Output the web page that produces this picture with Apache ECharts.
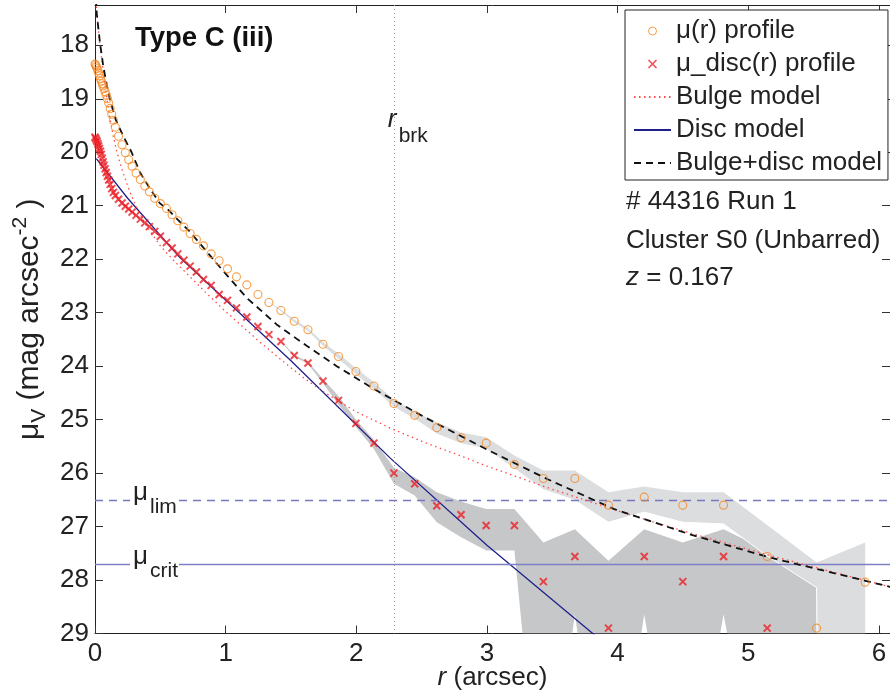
<!DOCTYPE html>
<html><head><meta charset="utf-8">
<script src="https://cdn.jsdelivr.net/npm/echarts@6/dist/echarts.min.js"></script>
<style>html,body{margin:0;padding:0;background:#fff}#c{width:890px;height:695px}</style>
</head><body><div id="c"></div>
<script>
// ---------- data ----------
const xTicks = [0, 1, 2, 3, 4, 5, 6];
const yTicks = [18, 19, 20, 21, 22, 23, 24, 25, 26, 27, 28, 29];

const profR = [0,0.005,0.01,0.016,0.022,0.028,0.034,0.041,0.048,0.055,0.062,0.069,0.077,0.086,0.095,0.105,0.116,0.128,0.141,0.156,0.18,0.207,0.232,0.258,0.284,0.314,0.347,0.381,0.416,0.457,0.5,0.547,0.59,0.634,0.68,0.728,0.776,0.83,0.889,0.95,1.014,1.083,1.162,1.247,1.331,1.423,1.525,1.63,1.745,1.864,1.997,2.135,2.288,2.447,2.616,2.802,2.994,3.21,3.432,3.673,3.93,4.204,4.499,4.811,5.145,5.523,5.895];
const profMu = [18.35,18.37,18.40,18.43,18.47,18.52,18.57,18.62,18.67,18.72,18.76,18.81,18.87,18.93,19.00,19.08,19.18,19.29,19.40,19.53,19.70,19.86,20.01,20.14,20.26,20.39,20.51,20.63,20.74,20.86,20.96,21.05,21.17,21.28,21.40,21.52,21.63,21.75,21.90,22.03,22.18,22.33,22.48,22.66,22.81,22.96,23.16,23.32,23.59,23.82,24.10,24.37,24.70,24.92,25.15,25.34,25.44,25.84,26.10,26.10,26.60,26.45,26.60,26.60,27.56,28.90,28.04];
const discMu = [19.72,19.74,19.77,19.80,19.84,19.88,19.93,19.98,20.04,20.11,20.18,20.24,20.31,20.38,20.45,20.52,20.60,20.68,20.75,20.81,20.88,20.95,21.01,21.06,21.12,21.18,21.25,21.32,21.39,21.48,21.57,21.69,21.79,21.90,22.02,22.13,22.24,22.38,22.49,22.66,22.77,22.91,23.08,23.26,23.41,23.54,23.80,23.94,24.28,24.64,25.07,25.44,26.00,26.20,26.61,26.78,26.98,26.98,28.03,27.56,28.90,27.56,28.03,27.56,28.90,null,null];

const bulgeR  = [0.004,0.013,0.025,0.038,0.051,0.064,0.077,0.094,0.115,0.14,0.166,0.204,0.243,0.28,0.332,0.4,0.5,0.6,0.728,0.85,0.983,1.12,1.239,1.37,1.494,1.62,1.75,1.88,2.005,2.26,2.516,2.77,3.0,3.46,3.92,4.28,4.64,5.15,5.6,6.09];
const bulgeMu = [16.9,17.35,17.68,17.98,18.24,18.5,18.74,19.04,19.38,19.70,19.98,20.30,20.58,20.82,21.10,21.40,21.75,22.02,22.33,22.63,22.94,23.24,23.50,23.77,24.02,24.26,24.48,24.68,24.86,25.16,25.42,25.65,25.87,26.27,26.64,26.92,27.18,27.53,27.82,28.13];

const discModelR  = [0.01,0.25,0.65,1.5,2.26,3.0,3.81,4.0];
const discModelMu = [20.12,20.86,21.97,23.90,25.72,27.35,29.0,29.4];

const totalR  = [0.003,0.013,0.038,0.064,0.09,0.115,0.16,0.217,0.28,0.345,0.42,0.498,0.549,0.65,0.728,0.818,0.932,1.16,1.39,1.62,1.85,2.13,2.29,2.52,2.77,3.0,3.46,3.97,4.56,5.15,5.89,6.09];
const totalMu = [16.9,17.40,17.95,18.40,18.74,19.02,19.40,19.70,20.00,20.38,20.68,20.96,21.05,21.30,21.49,21.75,22.08,22.72,23.22,23.62,24.00,24.42,24.64,24.95,25.27,25.56,26.11,26.67,27.15,27.57,28.01,28.13];

const lightR     = [1.331,1.423,1.525,1.63,1.745,1.864,1.997,2.135,2.288,2.447,2.616,2.802,2.994,3.21,3.432,3.673,3.93,4.204,4.499,4.811,5.145,5.523,5.895];
const lightUpper = [22.80,22.94,23.13,23.29,23.55,23.77,24.04,24.30,24.63,24.85,25.05,25.24,25.33,25.67,25.95,25.95,26.36,26.25,26.36,26.36,26.97,27.67,27.30];
const lightLower = [22.82,22.98,23.19,23.35,23.63,23.87,24.16,24.44,24.77,24.99,25.27,25.45,25.55,25.92,26.31,26.51,26.92,26.73,26.92,26.95,27.55,28.14,100];

const darkR     = [1.423,1.525,1.63,1.745,1.864,1.997,2.135,2.288,2.447,2.616,2.802,2.994,3.21,3.432,3.673,3.93,4.204,4.499,4.811,5.145,5.523];
const darkUpper = [23.53,23.78,23.92,24.24,24.56,25.00,25.38,25.90,26.08,26.36,26.53,26.67,26.67,27.30,27.05,27.64,27.05,27.30,27.05,27.45,27.90];
const darkLower = [23.55,23.82,23.96,24.32,24.72,25.14,25.55,26.20,26.42,26.92,27.20,27.45,27.45,33,28.64,33,28.64,33,28.64,33,33];

const rBrk = 2.286;
const muLim = 26.5;
const muCrit = 27.7;

// ---------- chart ----------
const FONT = '"Liberation Sans", Arial, Helvetica, sans-serif';
const TXT = '#222';
const chart = echarts.init(document.getElementById('c'), null, {renderer: 'canvas'});

function pairs(xs, ys) {
  const out = [];
  for (let i = 0; i < xs.length; i++) if (ys[i] !== null && ys[i] !== undefined) out.push([xs[i], ys[i]]);
  return out;
}
function band(name, rs, up, lo, fill, edge, z) {
  const data = rs.map((r, i) => [r, up[i], lo[i]]);
  return {
    type: 'custom', name: name, data: data, z: z, silent: true, clip: true,
    encode: {x: 0, y: [1, 2]},
    renderItem: function (params, api) {
      if (params.dataIndex !== 0) return null;
      const n = data.length, top = [], bot = [];
      for (let i = 0; i < n; i++) {
        top.push(api.coord([api.value(0, i), api.value(1, i)]));
        bot.push(api.coord([api.value(0, i), api.value(2, i)]));
      }
      const cs = params.coordSys;
      const children = [{type: 'polygon', shape: {points: top.concat(bot.slice().reverse())}, style: {fill: fill, stroke: null}}];
      if (edge) children.push({type: 'polyline', shape: {points: bot}, style: {stroke: '#ffffff', lineWidth: 1, fill: null}});
      return {type: 'group', clipPath: {type: 'rect', shape: {x: cs.x, y: cs.y, width: cs.width, height: cs.height}}, children: children};
    }
  };
}

const XMAX = 6.085, YMIN = 17.246, YMAX = 29;
const tickStyle = {lineStyle: {color: '#333', width: 1}};
const hideSym = {color: 'rgba(0,0,0,0)', borderWidth: 0, opacity: 0};
const option = {
  animation: false,
  backgroundColor: '#fff',
  grid: {left: 95, right: 0, top: 5, bottom: 61.5, containLabel: false, outerBoundsMode: 'none'},
  xAxis: [{
    type: 'value', min: 0, max: XMAX, position: 'bottom',
    axisLine: {show: true, onZero: false, lineStyle: {color: TXT, width: 1}},
    axisTick: Object.assign({show: true, inside: true, length: 8, customValues: xTicks}, tickStyle),
    axisLabel: {show: true, customValues: xTicks, fontSize: 26, color: TXT, fontFamily: FONT, margin: 7},
    splitLine: {show: false},
    name: '{i|r}{n| (arcsec)}', nameLocation: 'middle', nameGap: 31, nameMoveOverlap: false,
    nameTextStyle: {rich: {
      i: {fontSize: 26, fontStyle: 'italic', color: TXT, fontFamily: FONT},
      n: {fontSize: 26, color: TXT, fontFamily: FONT}
    }}
  }, {
    type: 'value', min: 0, max: XMAX, position: 'top',
    axisLine: {show: true, onZero: false, lineStyle: {color: TXT, width: 1}},
    axisTick: Object.assign({show: true, inside: true, length: 8, customValues: xTicks}, tickStyle),
    axisLabel: {show: false}, splitLine: {show: false}
  }],
  yAxis: [{
    type: 'value', min: YMIN, max: YMAX, inverse: true, position: 'left',
    axisLine: {show: true, onZero: false, lineStyle: {color: TXT, width: 1}},
    axisTick: Object.assign({show: true, inside: true, length: 8, customValues: yTicks}, tickStyle),
    axisLabel: {show: true, customValues: yTicks, fontSize: 26, color: TXT, fontFamily: FONT, margin: 6},
    splitLine: {show: false},
    name: '{m|μ}{v|V}{t| (mag arcsec}{e|-2}{t| )}', nameLocation: 'middle', nameGap: 45, nameMoveOverlap: false,
    nameTextStyle: {rich: {
      m: {fontSize: 30, color: TXT, fontFamily: FONT, lineHeight: 40},
      v: {fontSize: 21, color: TXT, fontFamily: FONT, verticalAlign: 'bottom', lineHeight: 21},
      t: {fontSize: 30, color: TXT, fontFamily: FONT},
      e: {fontSize: 21, color: TXT, fontFamily: FONT, verticalAlign: 'top', lineHeight: 21}
    }}
  }, {
    type: 'value', min: YMIN, max: YMAX, inverse: true, position: 'right',
    axisLine: {show: true, onZero: false, lineStyle: {color: TXT, width: 1}},
    axisTick: Object.assign({show: true, inside: true, length: 8, customValues: yTicks}, tickStyle),
    axisLabel: {show: false}, splitLine: {show: false}
  }],
  legend: {
    orient: 'vertical', left: 625, top: 10, padding: [8, 6, 4, 8], itemGap: 7,
    itemWidth: 37, itemHeight: 8, borderColor: '#222', borderWidth: 1, backgroundColor: '#fff',
    selectedMode: false,
    textStyle: {fontSize: 26, color: TXT, fontFamily: FONT, lineHeight: 26},
    data: [
      {name: 'μ(r) profile', itemStyle: {borderWidth: 1}},
      {name: 'μ_disc(r) profile', itemStyle: {borderWidth: 1.6}},
      {name: 'Bulge model', itemStyle: hideSym},
      {name: 'Disc model', itemStyle: hideSym},
      {name: 'Bulge+disc model', itemStyle: hideSym}
    ]
  },
  series: [
    band('darkBand', darkR, darkUpper, darkLower, '#c6c7c9', false, 1),
    band('lightBand', lightR, lightUpper, lightLower, '#dcdddf', true, 2),
    {
      type: 'line', name: 'Disc model', data: pairs(discModelR, discModelMu), z: 4,
      symbol: 'none', showSymbol: false, clip: true,
      lineStyle: {color: '#1f1f8c', width: 1.3},
      itemStyle: {color: '#1f1f8c'},
      markLine: {
        silent: true, symbol: 'none', animation: false, label: {show: false},
        data: [
          {yAxis: muLim, lineStyle: {color: '#7878c0', width: 1.3, type: [8, 6]}},
          {yAxis: muCrit, lineStyle: {color: '#7f7fc6', width: 1.3, type: 'solid'}},
          {xAxis: rBrk, lineStyle: {color: '#9a9a9a', width: 1, type: [1, 3]}}
        ]
      }
    },
    {
      type: 'line', name: 'Bulge model', data: pairs(bulgeR, bulgeMu), z: 5,
      symbol: 'none', showSymbol: false, clip: true,
      lineStyle: {color: '#ff4a4a', width: 1.3, type: [1.5, 3.5]},
      itemStyle: {color: '#ff4a4a'}
    },
    {
      type: 'line', name: 'Bulge+disc model', data: pairs(totalR, totalMu), z: 6,
      symbol: 'none', showSymbol: false, clip: true,
      lineStyle: {color: '#111', width: 1.8, type: [7, 5]},
      itemStyle: {color: '#111'}
    },
    {
      type: 'scatter', name: 'μ(r) profile', data: pairs(profR, profMu), z: 7,
      symbol: 'circle', symbolSize: 8, clip: false,
      itemStyle: {color: 'rgba(0,0,0,0)', borderColor: '#f5871f', borderWidth: 1.1}
    },
    {
      type: 'scatter', name: 'μ_disc(r) profile', data: pairs(profR, discMu), z: 8,
      symbol: 'path://M0,0L10,10M10,0L0,10', symbolSize: 7, clip: false,
      itemStyle: {color: 'rgba(0,0,0,0)', borderColor: '#ee1f26', borderWidth: 2}
    }
  ]
};
chart.setOption(option);

// annotations placed through the chart's own scales
const px = (x, y) => chart.convertToPixel({xAxisIndex: 0, yAxisIndex: 0}, [x, y]);
const gl = px(0, muLim), gc = px(0, muCrit), gb = px(rBrk, YMIN);
const left0 = gl[0];
function t(id, x, y, text, size, extra) {
  return Object.assign({type: 'text', id: id, x: x, y: y, z: 100,
    style: Object.assign({text: text, fontSize: size, fill: TXT, fontFamily: FONT, verticalAlign: 'middle', align: 'left'}, extra || {})});
}
function muLabel(id, yLine, sub) {
  return [
    {type: 'rect', id: id + 'bg', z: 99, shape: {x: left0 + 35, y: yLine - 3, width: 49, height: 6}, style: {fill: '#fff'}},
    t(id + 'm', left0 + 38, yLine - 7, 'μ', 26),
    t(id + 's', left0 + 55, yLine + 7.5, sub, 21)
  ];
}
chart.setOption({
  graphic: [
    t('type', 135, 38.5, 'Type C (iii)', 27.5, {fontWeight: 'bold', fill: '#111'}),
    t('run', 626, 202, '# 44316 Run 1', 26),
    t('clu', 626, 240.5, 'Cluster S0 (Unbarred)', 26),
    {type: 'text', id: 'zz', x: 626, y: 277.5, z: 100, style: {
      text: '{i|z} = 0.167', verticalAlign: 'middle', align: 'left', fill: TXT, fontFamily: FONT, fontSize: 26,
      rich: {i: {fontStyle: 'italic', fontSize: 26, fontFamily: FONT, fill: TXT}}}},
    t('rb1', gb[0] - 6, 120, 'r', 26, {fontStyle: 'italic'}),
    t('rb2', gb[0] + 5, 136.5, 'brk', 21)
  ].concat(muLabel('lim', gl[1], 'lim'), muLabel('crit', gc[1], 'crit'))
});
</script>
</body></html>
